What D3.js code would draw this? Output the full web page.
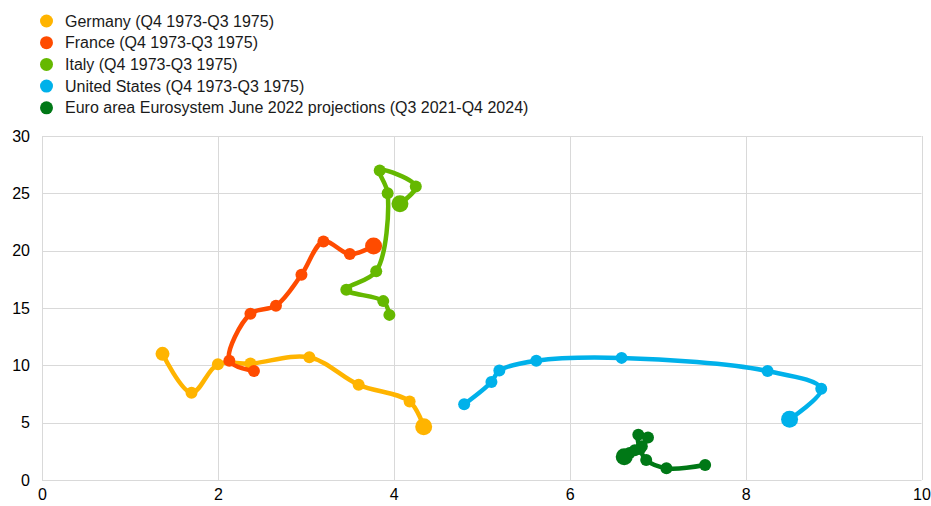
<!DOCTYPE html>
<html>
<head>
<meta charset="utf-8">
<script src="https://cdn.jsdelivr.net/npm/d3@7"></script>
<style>
  html, body { margin: 0; padding: 0; background: #fff; }
  svg { display: block; font-family: "Liberation Sans", Arial, sans-serif; }
</style>
</head>
<body>
<svg id="chart" width="931" height="506"></svg>
<script>
// ---- data ----
const seriesNames = [
  "Germany (Q4 1973-Q3 1975)",
  "France (Q4 1973-Q3 1975)",
  "Italy (Q4 1973-Q3 1975)",
  "United States (Q4 1973-Q3 1975)",
  "Euro area Eurosystem June 2022 projections (Q3 2021-Q4 2024)"
];
const seriesColors = ["#FFB400", "#FF4B00", "#65B800", "#00B1EA", "#007816"];

const germanyX = [1.37, 1.70, 2.00, 2.37, 3.04, 3.60, 4.18, 4.34];
const germanyY = [11.0, 7.6, 10.1, 10.15, 10.7, 8.3, 6.85, 4.65];

const franceX = [2.41, 2.13, 2.37, 2.66, 2.95, 3.20, 3.50, 3.77];
const franceY = [9.5, 10.4, 14.5, 15.2, 17.9, 20.8, 19.7, 20.4];

const italyX = [3.95, 3.88, 3.46, 3.80, 3.93, 3.84, 4.25, 4.07];
const italyY = [14.4, 15.6, 16.6, 18.2, 25.0, 27.0, 25.6, 24.1];

const usX = [4.80, 5.11, 5.20, 5.62, 6.59, 8.25, 8.86, 8.50];
const usY = [6.6, 8.55, 9.55, 10.4, 10.65, 9.5, 7.95, 5.3];

const euroX = [7.54, 7.10, 6.87, 6.80, 6.78, 6.89, 6.82, 6.74, 6.68, 6.62];
const euroY = [1.31, 1.02, 1.75, 2.7, 3.95, 3.70, 2.95, 2.6, 2.35, 2.03];

const xTicks = [0, 2, 4, 6, 8, 10];
const yTicks = [0, 5, 10, 15, 20, 25, 30];

const seriesX = [germanyX, franceX, italyX, usX, euroX];
const seriesY = [germanyY, franceY, italyY, usY, euroY];

// ---- layout ----
const svg = d3.select("#chart");
const margin = { left: 42, right: 931 - 921.5, top: 136, bottom: 506 - 480 };
const W = 931, H = 506;

const x = d3.scaleLinear().domain([0, 10]).range([margin.left, W - margin.right]);
const y = d3.scaleLinear().domain([0, 30]).range([H - margin.bottom, margin.top]);

const gridColor = "#d9d9d9";
const fontFam = "Liberation Sans, Arial, sans-serif";

// gridlines
svg.append("g").selectAll("line.h").data(yTicks).join("line")
  .attr("x1", x(0)).attr("x2", x(10))
  .attr("y1", d => Math.round(y(d)) + 0.5).attr("y2", d => Math.round(y(d)) + 0.5)
  .attr("stroke", gridColor).attr("stroke-width", 1);
svg.append("g").selectAll("line.v").data(xTicks).join("line")
  .attr("y1", y(0)).attr("y2", y(30))
  .attr("x1", d => Math.round(x(d)) + 0.5).attr("x2", d => Math.round(x(d)) + 0.5)
  .attr("stroke", gridColor).attr("stroke-width", 1);

// axes (labels only)
const yAxis = d3.axisLeft(y).tickValues(yTicks).tickSize(0).tickPadding(12);
const gy = svg.append("g").attr("transform", `translate(${x(0)},0)`).call(yAxis);
gy.select(".domain").remove();
gy.selectAll("text").attr("font-size", 16).attr("fill", "#000").attr("font-family", fontFam);

const xAxis = d3.axisBottom(x).tickValues(xTicks).tickSize(0).tickPadding(9);
const gx = svg.append("g").attr("transform", `translate(0,${y(0)})`).call(xAxis);
gx.select(".domain").remove();
gx.selectAll("text").attr("font-size", 16).attr("fill", "#000").attr("font-family", fontFam);

// series
const line = d3.line().curve(d3.curveCatmullRom.alpha(0.5)).x(d => x(d[0])).y(d => y(d[1]));

seriesNames.forEach((name, i) => {
  const pts = seriesX[i].map((v, j) => [v, seriesY[i][j]]);
  const g = svg.append("g");
  g.append("path").datum(pts)
    .attr("d", line)
    .attr("fill", "none")
    .attr("stroke", seriesColors[i])
    .attr("stroke-width", 4.5)
    .attr("stroke-linejoin", "round")
    .attr("stroke-linecap", "round");
  g.selectAll("circle").data(pts).join("circle")
    .attr("cx", d => x(d[0])).attr("cy", d => y(d[1]))
    .attr("r", (d, j) => j === pts.length - 1 ? 8.5 : (i === 0 && j === 0 ? 7 : 6))
    .attr("fill", seriesColors[i]);
});

// legend
const legend = svg.append("g");
seriesNames.forEach((name, i) => {
  const ly = 21 + i * 21.7;
  legend.append("circle").attr("cx", 46.5).attr("cy", ly).attr("r", 6.5).attr("fill", seriesColors[i]);
  legend.append("text").attr("x", 65).attr("y", ly).attr("dy", "0.35em")
    .attr("font-size", 16).attr("font-family", fontFam).attr("fill", "#1a1a1a").text(name);
});
</script>
</body>
</html>
